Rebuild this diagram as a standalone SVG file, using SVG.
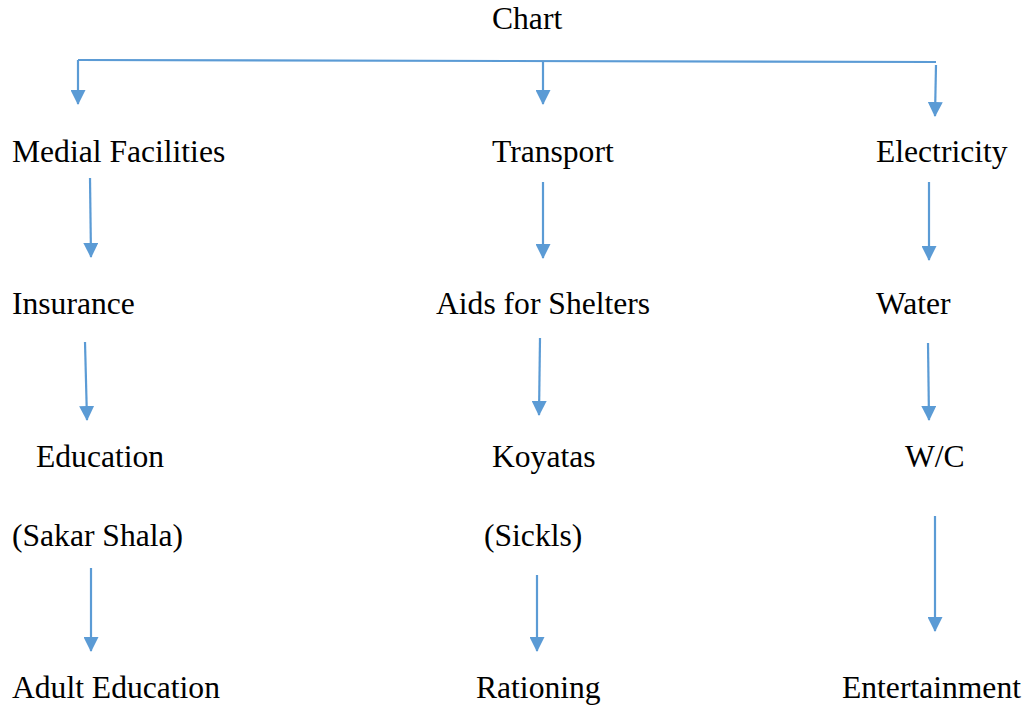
<svg xmlns="http://www.w3.org/2000/svg" width="1028" height="706" viewBox="0 0 1028 706">
<style>
text{font-family:"Liberation Serif","Times New Roman",serif;font-size:31.6px;fill:#000}
.c line,.c polyline{stroke:#5B9BD5;stroke-width:2.2;fill:none}
</style>
<defs>
<marker id="ah" viewBox="0 0 15 15" refX="14" refY="7.5" markerWidth="15" markerHeight="15" markerUnits="userSpaceOnUse" orient="auto">
<path d="M0,0 L15,7.5 L0,15 Z" fill="#5B9BD5"/>
</marker>
</defs>
<rect width="1028" height="706" fill="#fff"/>
<g class="c" id="connectors">
<line x1="78" y1="60" x2="936" y2="62"/>
<line x1="78" y1="60" x2="78" y2="104" marker-end="url(#ah)"/>
<line x1="543" y1="61" x2="543" y2="104" marker-end="url(#ah)"/>
<line x1="936" y1="65" x2="935" y2="116" marker-end="url(#ah)"/>
<line x1="90" y1="178" x2="91" y2="257" marker-end="url(#ah)"/>
<line x1="85" y1="342" x2="87" y2="420" marker-end="url(#ah)"/>
<line x1="91" y1="568" x2="91" y2="651" marker-end="url(#ah)"/>
<line x1="543" y1="182" x2="543" y2="258" marker-end="url(#ah)"/>
<line x1="540" y1="338" x2="539" y2="415" marker-end="url(#ah)"/>
<line x1="537" y1="575" x2="537" y2="651" marker-end="url(#ah)"/>
<line x1="929" y1="182" x2="929" y2="260" marker-end="url(#ah)"/>
<line x1="928" y1="343" x2="929" y2="420" marker-end="url(#ah)"/>
<line x1="935" y1="516" x2="935" y2="631" marker-end="url(#ah)"/>
</g>
<g id="chart"><text x="492" y="29">Chart</text></g>
<g id="medial"><text x="12" y="162">Medial Facilities</text></g>
<g id="transport"><text x="492" y="162">Transport</text></g>
<g id="electricity"><text x="876" y="162">Electricity</text></g>
<g id="insurance"><text x="12" y="314">Insurance</text></g>
<g id="aids"><text x="436" y="314">Aids for Shelters</text></g>
<g id="water"><text x="876" y="314">Water</text></g>
<g id="education"><text x="36" y="467">Education</text><text x="12" y="546">(Sakar Shala)</text></g>
<g id="koyatas"><text x="492" y="467">Koyatas</text><text x="484" y="546">(Sickls)</text></g>
<g id="wc"><text x="905" y="467">W/C</text></g>
<g id="adult"><text x="12" y="698">Adult Education</text></g>
<g id="rationing"><text x="476" y="698">Rationing</text></g>
<g id="entertainment"><text x="842" y="698">Entertainment</text></g>
</svg>
